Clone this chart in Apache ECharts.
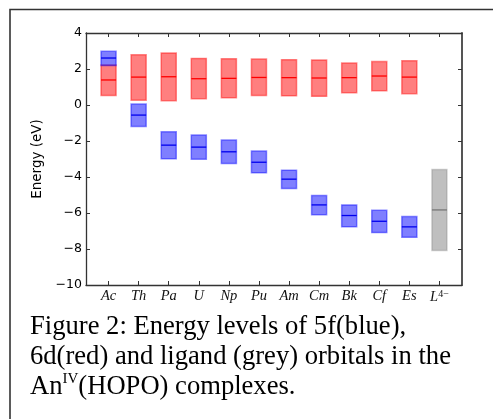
<!DOCTYPE html>
<html>
<head>
<meta charset="utf-8">
<script src="https://cdn.jsdelivr.net/npm/echarts@6/dist/echarts.min.js"></script>
<style>
  html, body { margin: 0; padding: 0; background: #fff; }
  #chart { width: 493px; height: 419px; }
</style>
</head>
<body>
<div id="chart"></div>
<script>
// Complexes along the x axis (last entry is the ligand L^4-)
const categories = ['Ac', 'Th', 'Pa', 'U', 'Np', 'Pu', 'Am', 'Cm', 'Bk', 'Cf', 'Es', 'L4-'];

// 6d orbital energy ranges (eV): low, high, centre line
const d6Low  = [0.53, 0.27, 0.24, 0.35, 0.40, 0.53, 0.51, 0.48, 0.68, 0.79, 0.63];
const d6High = [2.22, 2.79, 2.89, 2.59, 2.57, 2.55, 2.52, 2.50, 2.33, 2.41, 2.46];
const d6Mid  = [1.39, 1.55, 1.57, 1.46, 1.48, 1.53, 1.52, 1.50, 1.52, 1.61, 1.55];

// 5f orbital energy ranges (eV)
const f5Low  = [2.20, -1.19, -2.99, -3.01, -3.25, -3.77, -4.64, -6.10, -6.77, -7.09, -7.35];
const f5High = [2.98, 0.05, -1.49, -1.67, -1.95, -2.56, -3.62, -5.03, -5.55, -5.85, -6.20];
const f5Mid  = [2.61, -0.56, -2.23, -2.34, -2.60, -3.18, -4.12, -5.55, -6.14, -6.46, -6.77];

// Ligand orbital energy range (eV), placed at the last category
const ligLow = [-8.09];
const ligHigh = [-3.58];
const ligMid = [-5.83];

// Y axis ticks
const yTicks = [-10, -8, -6, -4, -2, 0, 2, 4];

function boxData(low, high, mid, offset) {
  return low.map((l, i) => [i + offset, l, high[i], mid[i]]);
}

function boxRenderer(fill, edge, lineColor) {
  return function (params, api) {
    const x = api.value(0);
    const lo = api.coord([x, api.value(1)]);
    const hi = api.coord([x, api.value(2)]);
    const md = api.coord([x, api.value(3)]);
    const w = api.size([0.5, 0])[0];
    return {
      type: 'group',
      children: [
        {
          type: 'rect',
          shape: { x: lo[0] - w / 2, y: hi[1], width: w, height: lo[1] - hi[1] },
          style: { fill: fill, stroke: edge, lineWidth: 1.5 }
        },
        {
          type: 'line',
          shape: { x1: md[0] - w / 2, y1: md[1], x2: md[0] + w / 2, y2: md[1] },
          style: { stroke: lineColor, lineWidth: 1.3 }
        }
      ]
    };
  };
}

const chart = echarts.init(document.getElementById('chart'), null, { renderer: 'canvas' });
const tickIdx = categories.map((c, i) => i);
const axisColor = '#333';

const option = {
  backgroundColor: '#fff',
  animation: false,
  grid: { left: 86, top: 33, width: 376, height: 252, containLabel: false },
  xAxis: [
    {
      type: 'value', position: 'bottom', min: -0.75, max: 11.75,
      splitLine: { show: false },
      axisLine: { show: true, onZero: false, lineStyle: { color: axisColor, width: 1.3 } },
      axisTick: { show: true, inside: true, length: 4, customValues: tickIdx, lineStyle: { color: axisColor } },
      axisLabel: {
        show: true, customValues: tickIdx, margin: 4,
        formatter: function (v) {
          const name = categories[Math.round(v)];
          if (name === 'L4-') return '{i|L}{sup|4−}';
          return '{i|' + name + '}';
        },
        rich: {
          i: { fontFamily: 'Liberation Serif', fontStyle: 'italic', fontSize: 14.5, color: '#111' },
          sup: { fontFamily: 'Liberation Serif', fontSize: 10, color: '#111', verticalAlign: 'top', padding: [0, 0, 7, 0] }
        }
      }
    },
    {
      type: 'value', position: 'top', min: -0.75, max: 11.75,
      splitLine: { show: false },
      axisLine: { show: true, onZero: false, lineStyle: { color: axisColor, width: 1.3 } },
      axisTick: { show: true, inside: true, length: 4, customValues: tickIdx, lineStyle: { color: axisColor } },
      axisLabel: { show: false }
    }
  ],
  yAxis: [
    {
      type: 'value', position: 'left', min: -10, max: 4, interval: 2,
      name: 'Energy (eV)', nameLocation: 'middle', nameGap: 31, nameRotate: 90,
      nameTextStyle: { fontFamily: 'DejaVu Sans', fontSize: 13.5, color: '#000' },
      splitLine: { show: false },
      axisLine: { show: true, onZero: false, lineStyle: { color: axisColor, width: 1.3 } },
      axisTick: { show: true, inside: true, length: 4, lineStyle: { color: axisColor } },
      axisLabel: {
        margin: 4, fontFamily: 'DejaVu Sans', fontSize: 12.5, color: '#000',
        customValues: yTicks,
        formatter: function (v) { return v < 0 ? '−' + Math.abs(v) : String(v); }
      }
    },
    {
      type: 'value', position: 'right', min: -10, max: 4, interval: 2,
      splitLine: { show: false },
      axisLine: { show: true, onZero: false, lineStyle: { color: '#555', width: 2 } },
      axisTick: { show: true, inside: true, length: 4, lineStyle: { color: axisColor } },
      axisLabel: { show: false }
    }
  ],
  series: [
    {
      name: '6d', type: 'custom', xAxisIndex: 0, yAxisIndex: 0,
      renderItem: boxRenderer('rgba(255,0,0,0.5)', 'rgba(255,0,0,0.45)', '#ff0000'),
      data: boxData(d6Low, d6High, d6Mid, 0)
    },
    {
      name: '5f', type: 'custom', xAxisIndex: 0, yAxisIndex: 0,
      renderItem: boxRenderer('rgba(0,0,255,0.5)', 'rgba(0,0,255,0.45)', '#0000ee'),
      data: boxData(f5Low, f5High, f5Mid, 0)
    },
    {
      name: 'ligand', type: 'custom', xAxisIndex: 0, yAxisIndex: 0,
      renderItem: boxRenderer('rgba(128,128,128,0.5)', 'rgba(128,128,128,0.35)', '#777777'),
      data: boxData(ligLow, ligHigh, ligMid, 11)
    }
  ],
  graphic: [
    {
      type: 'rect', silent: true,
      shape: { x: 10, y: 9.5, width: 600, height: 600 },
      style: { fill: 'none', stroke: '#333', lineWidth: 1.6 }
    },
    {
      type: 'text', left: 30, top: 312,
      style: {
        text: 'Figure 2: Energy levels of 5f(blue),\n6d(red) and ligand (grey) orbitals in the\n{n|An}{s|IV}{n|(HOPO) complexes.}',
        fontFamily: 'Liberation Serif', fontSize: 26.6, lineHeight: 30, fill: '#000',
        rich: {
          n: { fontFamily: 'Liberation Serif', fontSize: 26.6, lineHeight: 30, color: '#000' },
          s: { fontFamily: 'Liberation Serif', fontSize: 15, lineHeight: 30, color: '#000', verticalAlign: 'top', padding: [0, 0, 14, 0] }
        }
      }
    }
  ]
};

chart.setOption(option);
</script>
</body>
</html>
